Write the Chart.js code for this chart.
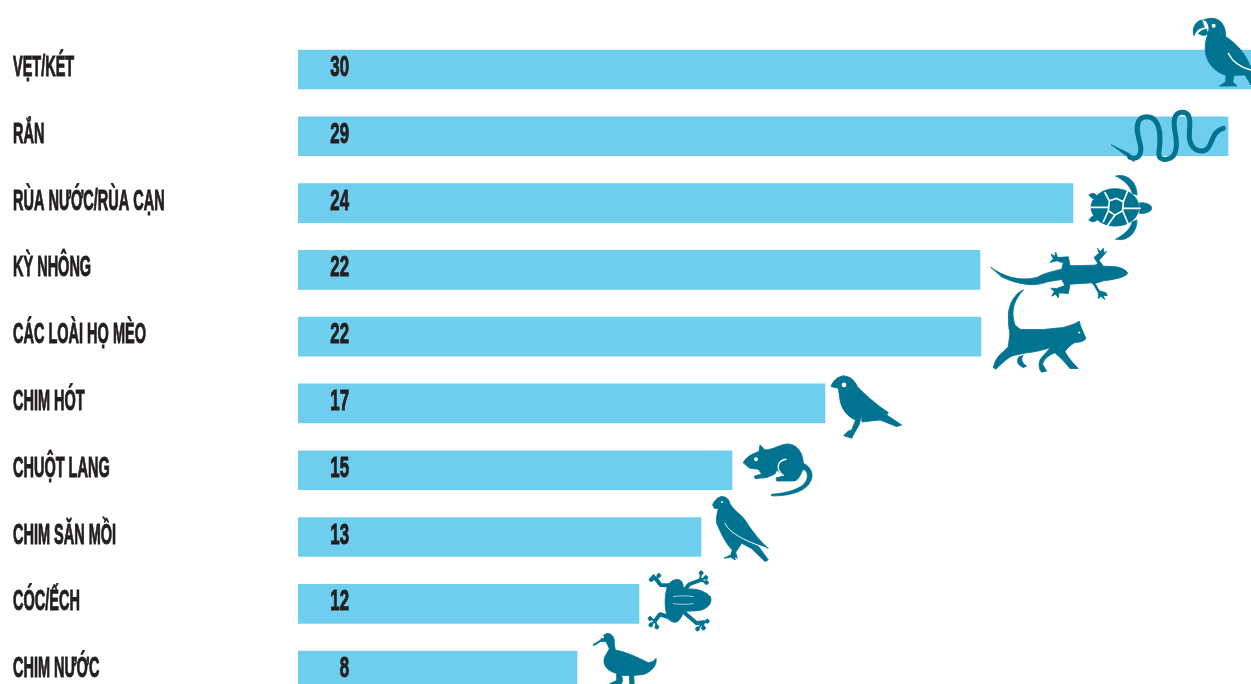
<!DOCTYPE html>
<html lang="vi">
<head>
  <meta charset="UTF-8" />
  <title>Buôn bán động vật</title>
  <style>
    html,body{margin:0;background:#fff;height:684px;overflow:hidden}
    canvas{display:block}
  </style>
</head>
<body>
  <canvas id="chart" width="1251" height="720"></canvas>
  <script src="https://cdn.jsdelivr.net/npm/chart.js"></script>
  <script>
  const categories = ['VẸT/KÉT', 'RẮN', 'RÙA NƯỚC/RÙA CẠN', 'KỲ NHÔNG', 'CÁC LOÀI HỌ MÈO', 'CHIM HÓT', 'CHUỘT LANG', 'CHIM SĂN MỒI', 'CÓC/ẾCH', 'CHIM NƯỚC'];
  // bar lengths as drawn in the picture, they do not quite follow the printed numbers
  const barLengths = [31, 30, 25, 22, 22.03, 17, 14, 13, 11, 9];
  const printedValues = ['30', '29', '24', '22', '22', '17', '15', '13', '12', '8'];

  const BLUE = '#6fcdee', TEAL = '#007391', INK = '#231f20';
  const LABEL_SQUEEZE = 0.5, VALUE_SQUEEZE = 0.58;

  // silhouettes, in 3x local units, placed from the end of their bar
  // f = filled, s = [width, path] stroked, w = [width, path] white line, e = [x, y, r] white eye
  const icons = [
    { dx: -209, dy: -69.5, f: ['M478 55C510 52 528 75 527 110C560 130 590 165 603 205L603 255L585 225L552 226L548 246L561 258L508 258L527 246L528 226C490 215 462 180 466 135C467 122 470 112 474 103L477 86C476 72 470 62 461 60Z', 'M455 60C436 64 425 85 432 107C438 92 446 84 462 82Z', 'M446 100C452 92 462 88 469 87L474 101C466 108 454 108 446 100Z'], w: [[4, 'M535 160C550 190 575 203 603 210']], e: [[491, 77, 6]] },
    { dx: -178, dy: -136.3, f: ['M185 435L240 462L252 484Z'], s: [[15, 'M240 472C262 482 275 465 272 440C268 415 255 390 265 365C275 345 305 345 318 365C335 390 330 430 327 455C323 480 345 482 360 475C385 462 380 420 375 395C370 365 370 340 395 337C425 335 420 370 418 400C416 430 430 455 458 453C490 450 478 395 520 385']] },
    { dx: -113, dy: -33, f: ['M393 112C393 85 425 55 465 56C510 56 537 85 537 112C537 140 510 168 465 168C425 168 393 140 393 112Z', 'M468 18C490 10 530 25 531 75L517 70C510 45 490 30 468 18Z', 'M468 207C490 215 530 200 531 150L517 155C510 180 490 195 468 207Z', 'M540 98C560 97 575 105 575 114C575 125 558 131 540 130Z', 'M388 75C395 65 408 70 413 82C405 88 392 87 388 75Z', 'M388 150C392 138 405 134 416 143C410 155 395 160 388 150Z'], w: [[5, 'M448 92L470 85L490 95L488 122L465 135L445 122ZM448 92L435 68M490 95L505 58M488 115L540 115M488 122L505 162M445 122L430 155M445 112L390 112M465 135L440 170']] },
    { dx: -20, dy: -99.7, f: ['M93 292C130 318 175 335 230 322C255 308 280 303 305 297L310 278L290 272L270 277L280 266L273 252L285 258L287 246L293 262L325 260L330 287L405 285L414 280L402 262L418 248L412 234L422 244L430 234L432 248L440 244L425 262L417 270L430 288L470 290C490 295 500 302 503 309C498 320 470 327 430 332L405 340L418 362L438 368L442 376L430 376L434 388L423 378L415 385L415 368L402 345L395 338L330 342L325 370L297 368L295 383L287 372L275 378L283 364L272 354L290 355L315 346L305 328L262 335C225 350 175 345 125 320Z'] },
    { dx: -21, dy: -166.5, f: ['M190 360C165 385 150 420 165 465L182 478L250 478L310 472C330 466 345 462 358 453L362 468L378 505C372 514 360 516 345 517C330 525 322 535 315 545C330 570 345 585 355 595L330 595C315 575 300 562 285 548C265 555 250 570 248 582L260 603L245 606C235 595 235 575 245 562L272 532C250 540 225 545 200 548L165 555C150 558 135 570 108 597L100 592C105 572 115 555 130 545L145 530L150 490C145 470 145 445 146 425C150 395 170 365 190 360Z', 'M178 560L190 556C180 568 188 580 200 588L190 592C172 585 168 570 178 560Z'], e: [[358, 487, 3]] },
    { dx: -105, dy: -33.5, f: ['M370 18C390 18 405 32 412 50C430 70 470 105 505 128L500 135L545 165L530 170L480 150L426 156L425 136L417 165L400 195L395 205L371 197L385 183L395 180L407 150C385 142 365 120 360 90L355 55L333 50C338 35 350 20 370 18Z'], e: [[372, 45, 7]] },
    { dx: -12, dy: -100.3, f: ['M70 278C78 262 95 252 117 245L120 225L135 240C160 240 180 222 205 222C235 225 248 250 250 280C280 295 285 325 260 350C235 373 190 378 155 378L155 373C200 370 265 355 262 315C260 300 252 296 247 302C240 320 232 333 222 333L170 333L168 324L190 318L170 300L165 312L140 323L105 326L103 319L125 312L115 298L90 295Z'], w: [[4, 'M198 268C172 272 165 298 190 316']], e: [[108, 268, 6]] },
    { dx: -1, dy: -47.1, f: ['M65 20C80 20 88 30 90 42C100 60 125 75 135 90C150 115 180 155 205 175L170 162L205 210L195 215L155 176L125 160L107 187L112 205L104 200L106 210L92 202L72 205L92 195L97 180C80 165 65 135 50 100C47 85 52 70 55 56L43 55L38 45C42 35 50 22 65 20Z'], w: [[3, 'M75 100C85 125 125 150 200 175']], e: [[66, 36, 3]] },
    { dx: 1, dy: -38.9, f: ['M85 58C95 45 115 38 125 50C130 58 128 68 135 72C155 72 170 72 185 78C200 85 214 92 213 105C212 120 200 130 185 135C165 140 145 136 130 142C125 155 118 172 105 172C90 172 80 160 78 140C73 115 75 80 85 58Z', 'M40 30A6 6 0 1 0 41 30Z', 'M56 26A6 6 0 1 0 57 26Z', 'M33 38A6 6 0 1 0 34 38Z', 'M183 18A6 6 0 1 0 184 18Z', 'M197 32A6 6 0 1 0 198 32Z', 'M199 47A6 6 0 1 0 200 47Z', 'M30 155A6 6 0 1 0 31 155Z', 'M32 174A6 6 0 1 0 33 174Z', 'M50 180A6 6 0 1 0 51 180Z', 'M201 163A6 6 0 1 0 202 163Z', 'M190 183A6 6 0 1 0 191 183Z', 'M172 186A6 6 0 1 0 173 186Z'], s: [[12, 'M95 62L62 60L48 42'], [6, 'M48 42L40 36M48 42L56 32M48 42L34 44'], [12, 'M135 74L148 58L180 46'], [6, 'M180 46L183 24M180 46L197 38M180 46L198 52'], [12, 'M95 160L60 148L45 168'], [6, 'M45 168L30 160M45 168L33 179M45 168L51 185'], [12, 'M135 145L170 175L190 172'], [6, 'M190 172L201 168M190 172L190 188M190 172L173 192']], w: [[2, 'M100 95C115 92 145 92 160 95M100 116C115 119 145 119 160 116']] },
    { dx: -7, dy: -110.5, f: ['M70 253L92 240C96 228 105 220 115 220C128 222 135 235 133 255L136 270C165 275 200 290 235 308C245 307 254 302 258 295C262 315 245 335 220 343L191 346L193 380L180 380L178 346L155 346L158 362L150 380L100 380L140 361L140 340C118 335 100 320 102 300C104 285 115 275 118 265L108 245L92 244L72 256Z'], e: [[98, 231, 4]] }
  ];

  const labelsPlugin = {
    id: 'sideText',
    afterDatasetsDraw(chart) {
      const { ctx, scales: { y } } = chart;
      const draw = (text, px, py, align, squeeze) => {
        ctx.save();
        ctx.translate(px, py);
        ctx.scale(squeeze, 1);
        ctx.textAlign = align;
        ctx.textBaseline = 'alphabetic';
        ctx.font = "bold 29px 'Liberation Sans Narrow','Liberation Sans',sans-serif";
        ctx.fillStyle = ctx.strokeStyle = INK;
        ctx.lineWidth = 1;
        ctx.fillText(text, 0, 0);
        ctx.strokeText(text, 0, 0); // squeezing thins the stems, this brings them back
        ctx.restore();
      };
      categories.forEach((name, i) => {
        const cy = y.getPixelForValue(i);
        draw(name, 13, cy + 6.5, 'left', LABEL_SQUEEZE);
        draw(printedValues[i], 349, cy + 6.5, 'right', VALUE_SQUEEZE);
      });
    }
  };

  const iconPlugin = {
    id: 'animalIcons',
    afterDraw(chart) {
      const { ctx, scales: { x, y } } = chart;
      icons.forEach((ic, i) => {
        ctx.save();
        ctx.translate(x.getPixelForValue(barLengths[i]) + ic.dx, y.getPixelForValue(i) + ic.dy);
        ctx.scale(1 / 3, 1 / 3);
        ctx.fillStyle = ctx.strokeStyle = TEAL;
        ctx.lineCap = ctx.lineJoin = 'round';
        ctx.lineWidth = 2.5;
        (ic.f || []).forEach(p => { const path = new Path2D(p); ctx.fill(path); ctx.stroke(path); });
        (ic.s || []).forEach(([w, p]) => { ctx.lineWidth = w; ctx.stroke(new Path2D(p)); });
        ctx.strokeStyle = '#fff';
        (ic.w || []).forEach(([w, p]) => { ctx.lineWidth = w; ctx.stroke(new Path2D(p)); });
        ctx.fillStyle = '#fff';
        (ic.e || []).forEach(([ex, ey, r]) => { ctx.beginPath(); ctx.arc(ex, ey, r, 0, Math.PI * 2); ctx.fill(); });
        ctx.restore();
      });
    }
  };

  new Chart(document.getElementById('chart'), {
    type: 'bar',
    data: {
      labels: categories,
      datasets: [{ label: 'Số lượng', data: barLengths, backgroundColor: BLUE, barThickness: 39, borderWidth: 0 }]
    },
    options: {
      indexAxis: 'y',
      responsive: false,
      animation: false,
      layout: { padding: { left: 298, top: 36.1, bottom: 16, right: 0 } },
      plugins: { legend: { display: false }, tooltip: { enabled: false } },
      scales: {
        x: { display: false, min: 0, max: 953 / 31 },
        y: { display: false }
      }
    },
    plugins: [labelsPlugin, iconPlugin]
  });
  </script>
</body>
</html>
